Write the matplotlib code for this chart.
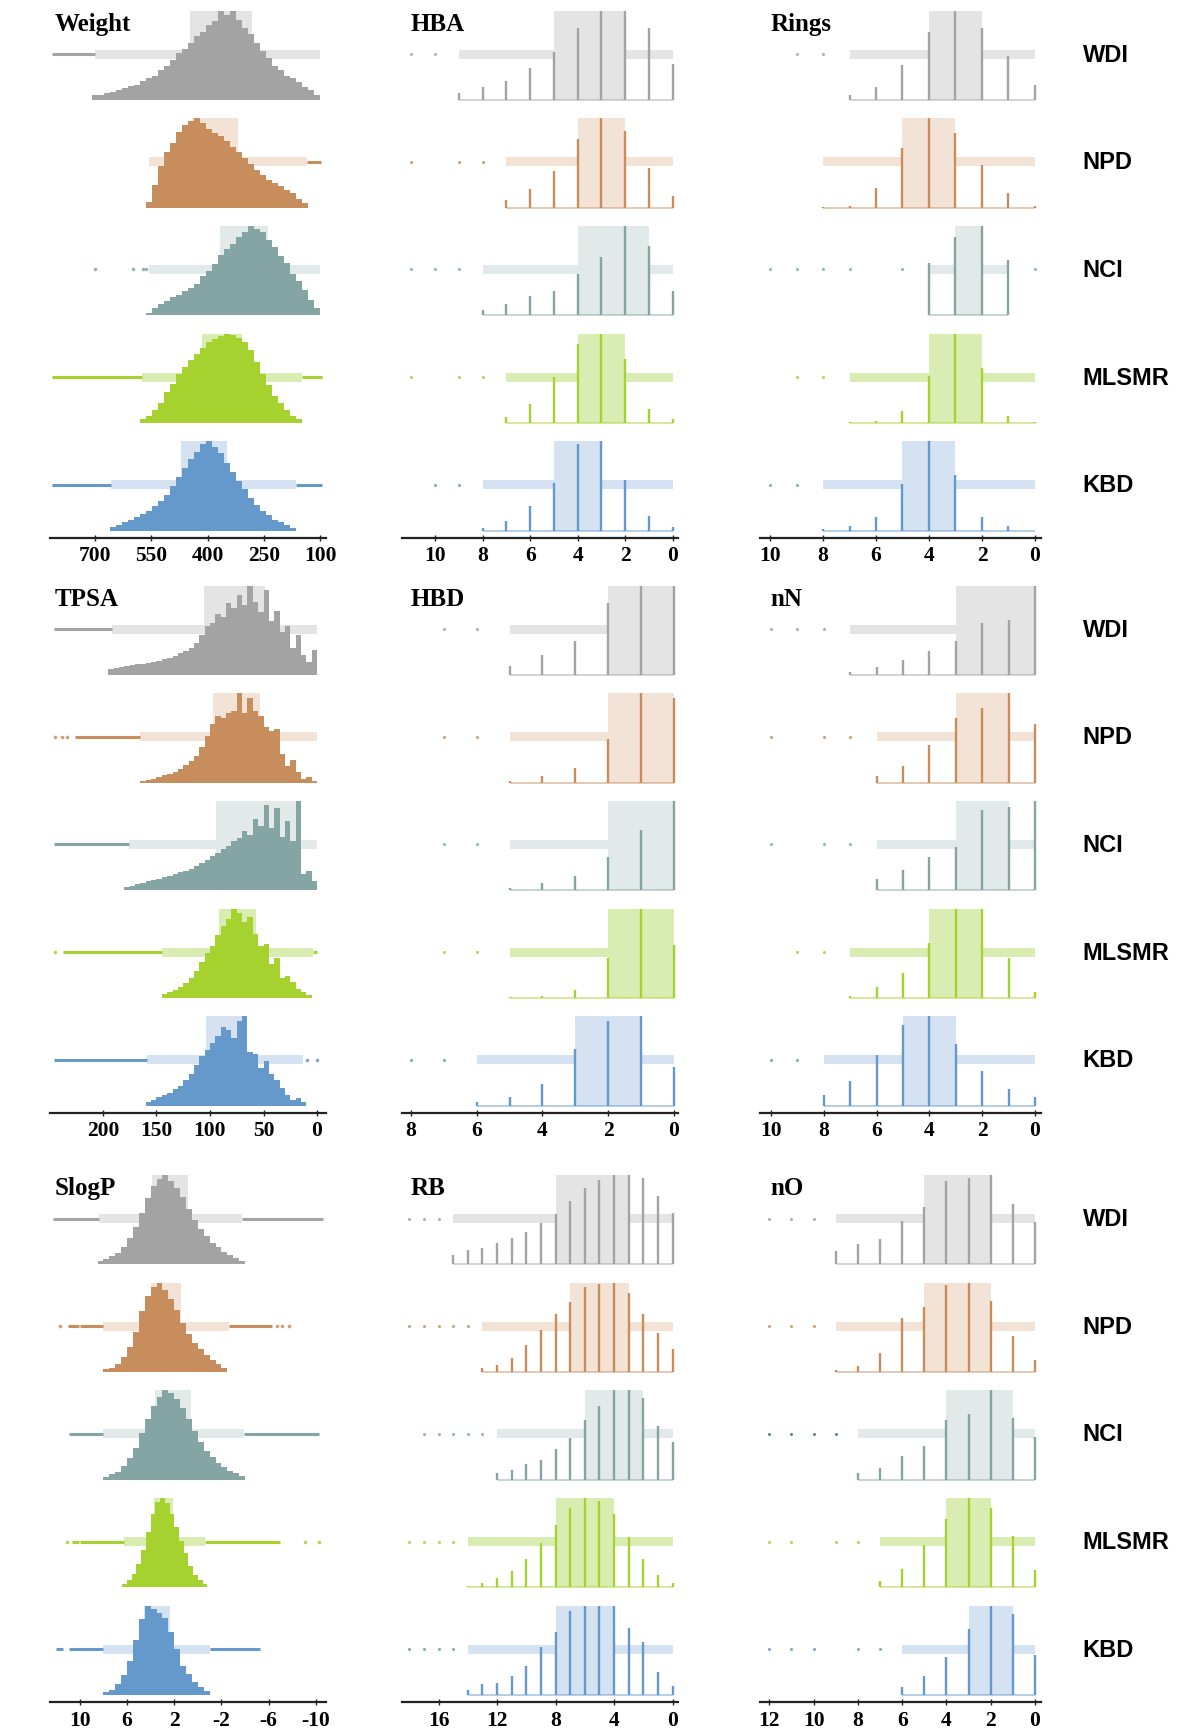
import numpy as np
import matplotlib.pyplot as plt
from matplotlib.transforms import blended_transform_factory

plt.rcParams['axes.unicode_minus'] = False

datasets = ['WDI', 'NPD', 'NCI', 'MLSMR', 'KBD']
dark_colors = ['#a3a3a3', '#c78d5c', '#84a5a4', '#a5d22e', '#6599cb']
light_colors = ['#e4e4e4', '#f3e3d6', '#e1e9e9', '#d9edb3', '#d5e2f2']
dot_colors = ['#a3a3a3', '#c78d5c', '#84a5a4', '#a5d22e', '#6599cb']

# ---- continuous descriptors: histogram heights (relative to tallest bin), low -> high value
weight_start = [100, 132, 100, 148, 164]
weight_width = [16, 16, 16, 16, 16]
weight_hist = [
    [0.06, 0.11, 0.14, 0.20, 0.24, 0.27, 0.33, 0.38, 0.47, 0.55, 0.64, 0.74, 0.80, 0.90, 0.99, 0.95,
     1.0, 0.88, 0.84, 0.76, 0.72, 0.64, 0.57, 0.52, 0.45, 0.38, 0.33, 0.27, 0.24, 0.21, 0.17, 0.16,
     0.13, 0.11, 0.09, 0.08, 0.06, 0.05],
    [0.05, 0.10, 0.16, 0.20, 0.24, 0.27, 0.31, 0.36, 0.42, 0.49, 0.56, 0.62, 0.68, 0.74, 0.80, 0.83,
     0.88, 0.95, 1.0, 0.97, 0.92, 0.85, 0.72, 0.62, 0.47, 0.25, 0.06],
    [0.08, 0.17, 0.28, 0.38, 0.46, 0.58, 0.66, 0.76, 0.84, 0.93, 0.97, 1.0, 0.93, 0.87, 0.80, 0.74,
     0.67, 0.57, 0.50, 0.44, 0.35, 0.31, 0.27, 0.23, 0.20, 0.16, 0.12, 0.08, 0.03],
    [0.04, 0.08, 0.14, 0.22, 0.30, 0.42, 0.55, 0.68, 0.82, 0.90, 0.95, 0.98, 1.0, 0.97, 0.94, 0.90,
     0.84, 0.77, 0.70, 0.62, 0.55, 0.44, 0.35, 0.22, 0.14, 0.08, 0.04],
    [0.03, 0.06, 0.09, 0.12, 0.17, 0.22, 0.29, 0.36, 0.46, 0.55, 0.65, 0.76, 0.87, 0.93, 1.0, 0.97,
     0.88, 0.80, 0.70, 0.60, 0.50, 0.40, 0.33, 0.27, 0.22, 0.19, 0.15, 0.12, 0.09, 0.06, 0.04],
]
weight_box = [(282, 447), (319, 442), (240, 367), (309, 416), (349, 471)]
weight_whisker = [(100, 699), (136, 557), (100, 557), (149, 574), (165, 658)]
weight_runs = [[(699, 815)], [(97, 136)], [], [(574, 815), (96, 149)], [(658, 815), (96, 165)]]
weight_dots = [[], [], [563, 572, 598, 700], [], []]

tpsa_start = [0, 0, 0, 5, 10]
tpsa_width = [5, 5, 5, 5, 5]
tpsa_hist = [
    [0.28, 0.15, 0.22, 0.45, 0.30, 0.55, 0.48, 0.72, 0.60, 0.95, 0.70, 0.82, 1.0, 0.78, 0.90, 0.75,
     0.80, 0.65, 0.68, 0.58, 0.55, 0.45, 0.36, 0.30, 0.27, 0.24, 0.21, 0.19, 0.18, 0.16, 0.15, 0.13,
     0.12, 0.12, 0.11, 0.10, 0.09, 0.08, 0.07],
    [0.02, 0.06, 0.04, 0.12, 0.25, 0.18, 0.32, 0.60, 0.58, 0.62, 0.75, 0.80, 0.95, 0.78, 1.0, 0.80,
     0.78, 0.72, 0.74, 0.65, 0.52, 0.40, 0.30, 0.24, 0.20, 0.15, 0.12, 0.10, 0.08, 0.06, 0.04, 0.03,
     0.02],
    [0.10, 0.22, 0.18, 1.0, 0.55, 0.78, 0.60, 0.92, 0.70, 0.95, 0.72, 0.80, 0.62, 0.66, 0.58, 0.55,
     0.50, 0.46, 0.42, 0.38, 0.34, 0.30, 0.27, 0.24, 0.22, 0.20, 0.18, 0.16, 0.15, 0.13, 0.11, 0.10,
     0.08, 0.07, 0.05, 0.04],
    [0.03, 0.06, 0.10, 0.18, 0.25, 0.22, 0.45, 0.38, 0.60, 0.58, 0.72, 0.90, 0.85, 0.95, 1.0, 0.88,
     0.80, 0.70, 0.58, 0.50, 0.40, 0.30, 0.22, 0.17, 0.12, 0.09, 0.06, 0.04],
    [0.04, 0.08, 0.06, 0.12, 0.20, 0.28, 0.35, 0.50, 0.42, 0.58, 0.60, 1.0, 0.95, 0.75, 0.85, 0.88,
     0.78, 0.70, 0.62, 0.55, 0.45, 0.35, 0.28, 0.22, 0.18, 0.14, 0.12, 0.09, 0.06, 0.04],
]
tpsa_box = [(49, 106), (53, 97), (17, 94), (57, 92), (67, 104)]
tpsa_whisker = [(0, 192), (0, 165), (0, 176), (4, 145), (13, 159)]
tpsa_runs = [[(192, 246)], [(165, 226)], [(176, 246)], [(145, 237), (0, 4)], [(159, 246)]]
tpsa_dots = [[], [234, 238, 245], [], [245], [9, 0]]

slogp_start = [-4.0, -2.5, -4.0, -0.8, -1.0]
slogp_width = [0.5, 0.5, 0.5, 0.4, 0.5]
slogp_hist = [
    [0.04, 0.07, 0.10, 0.14, 0.19, 0.24, 0.32, 0.40, 0.50, 0.62, 0.75, 0.85, 0.93, 1.0, 0.96, 0.88,
     0.74, 0.58, 0.42, 0.30, 0.20, 0.13, 0.09, 0.06, 0.04],
    [0.05, 0.09, 0.14, 0.19, 0.26, 0.33, 0.43, 0.55, 0.70, 0.82, 0.92, 1.0, 0.95, 0.85, 0.68, 0.45,
     0.28, 0.17, 0.09, 0.05, 0.03],
    [0.04, 0.07, 0.10, 0.14, 0.19, 0.25, 0.32, 0.42, 0.55, 0.68, 0.80, 0.90, 0.97, 1.0, 0.93, 0.82,
     0.68, 0.52, 0.36, 0.24, 0.15, 0.09, 0.06, 0.03],
    [0.04, 0.08, 0.14, 0.24, 0.38, 0.52, 0.68, 0.82, 0.94, 1.0, 0.96, 0.82, 0.62, 0.42, 0.26, 0.15,
     0.08, 0.04],
    [0.04, 0.09, 0.15, 0.23, 0.33, 0.52, 0.70, 0.86, 0.92, 0.96, 1.0, 0.85, 0.62, 0.38, 0.22, 0.12,
     0.06, 0.03],
]
slogp_box = [(0.86, 3.9), (1.43, 4.0), (0.6, 3.6), (2.1, 3.7), (2.4, 4.6)]
slogp_whisker = [(-3.7, 8.4), (-2.6, 8.0), (-3.9, 8.0), (-0.6, 6.3), (-1.0, 8.0)]
slogp_runs = [[(8.4, 12.3), (-10.6, -3.7)],
              [(8.0, 10.0), (10.1, 11.0), (-6.3, -2.6)],
              [(8.0, 10.9), (-10.3, -3.9)],
              [(6.3, 10.0), (10.1, 10.7), (-7.0, -0.6)],
              [(8.0, 10.9), (11.4, 12.0), (-5.3, -1.0)]]
slogp_dots = [[], [11.7, -6.7, -7.1, -7.7], [], [11.1, -9.1, -10.3], []]

# ---- integer descriptors: relative counts for values 0, 1, 2, ...
hba_counts = [
    [0.40, 0.80, 1.0, 1.0, 0.81, 0.54, 0.36, 0.21, 0.15, 0.08],
    [0.13, 0.44, 0.86, 1.0, 0.77, 0.41, 0.21, 0.09],
    [0.27, 0.77, 1.0, 0.65, 0.46, 0.27, 0.21, 0.12, 0.06],
    [0.04, 0.16, 0.71, 1.0, 0.88, 0.51, 0.21, 0.06],
    [0.04, 0.16, 0.56, 1.0, 0.97, 0.53, 0.27, 0.11, 0.03],
]
hba_box = [(2, 5), (2, 4), (1, 4), (2, 4), (3, 5)]
hba_whisker = [(0, 9), (0, 7), (0, 8), (0, 7), (0, 8)]
hba_outliers = [[10, 11], [8, 9, 11], [9, 10, 11], [8, 9, 11], [9, 10]]

rings_counts = [
    [0.17, 0.49, 0.81, 1.0, 0.76, 0.39, 0.15, 0.06],
    [0.02, 0.16, 0.48, 0.83, 1.0, 0.67, 0.22, 0.02, 0.005],
    [0, 0.62, 1.0, 0.88, 0.58],
    [0.01, 0.08, 0.61, 1.0, 0.52, 0.13, 0.02, 0.005],
    [0, 0.05, 0.15, 0.62, 1.0, 0.52, 0.15, 0.05, 0.02],
]
rings_box = [(2, 4), (3, 5), (2, 3), (2, 4), (3, 5)]
rings_whisker = [(0, 7), (0, 8), (1, 4), (0, 7), (0, 8)]
rings_outliers = [[8, 9], [], [0, 5, 7, 8, 9, 10], [8, 9], [9, 10]]

hbd_counts = [
    [1.0, 1.0, 0.81, 0.38, 0.22, 0.10],
    [0.95, 1.0, 0.49, 0.16, 0.07, 0.02],
    [1.0, 0.67, 0.37, 0.16, 0.08, 0.02],
    [0.59, 1.0, 0.45, 0.09, 0.02, 0.005],
    [0.43, 1.0, 0.95, 0.63, 0.24, 0.10, 0.04],
]
hbd_box = [(0, 2), (0, 2), (0, 2), (0, 2), (1, 3)]
hbd_whisker = [(0, 5), (0, 5), (0, 5), (0, 5), (0, 6)]
hbd_outliers = [[6, 7], [6, 7], [6, 7], [6, 7], [7, 8]]

nn_counts = [
    [1.0, 0.62, 0.58, 0.38, 0.27, 0.17, 0.09, 0.03],
    [0.66, 1.0, 0.83, 0.72, 0.42, 0.19, 0.07],
    [1.0, 0.93, 0.90, 0.48, 0.37, 0.23, 0.12],
    [0.07, 0.45, 1.0, 1.0, 0.61, 0.28, 0.12, 0.02],
    [0.09, 0.19, 0.39, 0.69, 1.0, 0.90, 0.57, 0.27, 0.12],
]
nn_box = [(0, 3), (1, 3), (1, 3), (2, 4), (3, 5)]
nn_whisker = [(0, 7), (0, 6), (0, 6), (0, 7), (0, 8)]
nn_outliers = [[8, 9, 10], [7, 8, 10], [7, 8, 10], [8, 9], [9, 10]]

rb_counts = [
    [0.57, 0.77, 0.97, 1.0, 1.0, 0.95, 0.86, 0.71, 0.56, 0.46, 0.36, 0.30, 0.24, 0.18, 0.16, 0.11],
    [0.26, 0.44, 0.65, 0.88, 1.0, 0.99, 0.95, 0.78, 0.65, 0.47, 0.30, 0.16, 0.08, 0.05],
    [0.42, 0.60, 0.91, 1.0, 1.0, 0.82, 0.67, 0.47, 0.34, 0.22, 0.18, 0.11, 0.08],
    [0.05, 0.14, 0.32, 0.56, 0.82, 0.97, 1.0, 0.89, 0.70, 0.50, 0.32, 0.18, 0.10, 0.05, 0.02],
    [0.10, 0.26, 0.59, 0.75, 1.0, 1.0, 1.0, 0.94, 0.71, 0.54, 0.33, 0.21, 0.13, 0.12, 0.06],
]
rb_box = [(3, 8), (3, 7), (2, 6), (4, 8), (4, 8)]
rb_whisker = [(0, 15), (0, 13), (0, 12), (0, 14), (0, 14)]
rb_outliers = [[16, 17, 18], [14, 15, 16, 17, 18], [13, 14, 15, 16, 17], [15, 16, 17, 18], [15, 16, 17, 18]]

no_counts = [
    [0.48, 0.68, 1.0, 0.97, 0.93, 0.64, 0.49, 0.29, 0.23, 0.15],
    [0.14, 0.40, 0.79, 1.0, 0.97, 0.73, 0.60, 0.21, 0.07, 0.02],
    [0.48, 0.69, 1.0, 0.74, 0.67, 0.38, 0.26, 0.13, 0.08],
    [0.19, 0.58, 0.89, 1.0, 0.77, 0.47, 0.20, 0.07],
    [0.45, 0.91, 1.0, 0.74, 0.43, 0.21, 0.09],
]
no_box = [(2, 5), (2, 5), (1, 4), (2, 4), (1, 3)]
no_whisker = [(0, 9), (0, 9), (0, 8), (0, 7), (0, 6)]
no_outliers = [[10, 11, 12], [10, 11, 12], [9, 10, 11, 12], [8, 9, 11, 12], [7, 8, 10, 11, 12]]

H = 0.83        # panel height (box top)
BAND_Y = 0.425  # whisker band centre above baseline
BAND_HW = 0.042


def draw_common(ax, k, box, whisker, runs, dots, dot_color, ms):
    y0 = 4 - k
    yc = y0 + BAND_Y
    ax.fill_between(whisker, yc - BAND_HW, yc + BAND_HW, color=light_colors[k], lw=0, zorder=1)
    ax.fill_between(box, y0, y0 + H, color=light_colors[k], lw=0, zorder=1)
    for lo, hi in runs:
        ax.plot([lo, hi], [yc, yc], color=dark_colors[k], lw=2.2, solid_capstyle='butt', zorder=2)
    ax.plot(dots, [yc] * len(dots), 'o', ms=ms, color=dot_color, mec='none', alpha=0.85, zorder=2)


def draw_hist(ax, k, start, width, heights):
    y0 = 4 - k
    edges = start + width * np.arange(len(heights) + 1)
    ax.stairs(y0 + H * np.array(heights), edges, baseline=y0, fill=True,
              color=dark_colors[k], lw=0, zorder=3)


def draw_stems(ax, k, counts, whisker):
    y0 = 4 - k
    c = np.array(counts)
    xs = np.arange(len(c))
    ax.hlines(y0, whisker[0], whisker[1], color=dark_colors[k], lw=1.2, alpha=0.55, zorder=2)
    ax.vlines(xs[c > 0], y0, y0 + H * c[c > 0], color=dark_colors[k], lw=1.7, zorder=3)


def setup_axis(ax, xlim, ticks, title, tx):
    ax.set_xlim(*xlim)
    ax.set_ylim(-0.065, 4.84)
    for s in ['top', 'left', 'right']:
        ax.spines[s].set_visible(False)
    ax.spines['bottom'].set_linewidth(1.6)
    ax.spines['bottom'].set_color('#222222')
    ax.set_yticks([])
    ax.set_xticks(ticks)
    ax.set_xticklabels([str(t) for t in ticks], fontfamily='Liberation Serif',
                       fontweight='bold', fontsize=15.5)
    ax.tick_params(axis='x', direction='inout', length=5, width=1, pad=3, color='#222222')
    ax.text(tx, 0.974, title, transform=ax.transAxes, ha='left', va='center',
            family='Liberation Serif', weight='bold', fontsize=18)
    ax.patch.set_visible(False)


fig = plt.figure(figsize=(12, 17.33), dpi=100)

col_left = [50 / 1200, 402 / 1200, 760 / 1200]
col_width = [276 / 1200, 276 / 1200, 281 / 1200]
group_bottom = [1 - 538.5 / 1733, 1 - 1113.5 / 1733, 1 - 1703 / 1733]
group_height = 528 / 1733
title_x = [0.016, 0.031, 0.037]

hist_vars = [
    ('Weight', weight_start, weight_width, weight_hist, weight_box, weight_whisker, weight_runs,
     weight_dots, (820, 84), [700, 550, 400, 250, 100]),
    ('TPSA', tpsa_start, tpsa_width, tpsa_hist, tpsa_box, tpsa_whisker, tpsa_runs,
     tpsa_dots, (249.5, -8.4), [200, 150, 100, 50, 0]),
    ('SlogP', slogp_start, slogp_width, slogp_hist, slogp_box, slogp_whisker, slogp_runs,
     slogp_dots, (12.53, -10.86), [10, 6, 2, -2, -6, -10]),
]
stem_vars = [
    [('HBA', hba_counts, hba_box, hba_whisker, hba_outliers, (11.39, -0.22), [10, 8, 6, 4, 2, 0]),
     ('Rings', rings_counts, rings_box, rings_whisker, rings_outliers, (10.38, -0.23), [10, 8, 6, 4, 2, 0])],
    [('HBD', hbd_counts, hbd_box, hbd_whisker, hbd_outliers, (8.27, -0.12), [8, 6, 4, 2, 0]),
     ('nN', nn_counts, nn_box, nn_whisker, nn_outliers, (10.42, -0.23), [10, 8, 6, 4, 2, 0])],
    [('RB', rb_counts, rb_box, rb_whisker, rb_outliers, (18.5, -0.37), [16, 12, 8, 4, 0]),
     ('nO', no_counts, no_box, no_whisker, no_outliers, (12.42, -0.27), [12, 10, 8, 6, 4, 2, 0])],
]

for g in range(3):
    # first column: continuous histograms
    name, start, width, hist, box, whisk, runs, dots, xlim, ticks = hist_vars[g]
    ax = fig.add_axes([col_left[0], group_bottom[g], col_width[0], group_height])
    for k in range(5):
        draw_common(ax, k, box[k], whisk[k], runs[k], dots[k], dark_colors[k], 2.6)
        draw_hist(ax, k, start[k], width[k], hist[k])
    setup_axis(ax, xlim, ticks, name, title_x[0])

    # second and third columns: integer counts
    for c in range(2):
        name, counts, box, whisk, outl, xlim, ticks = stem_vars[g][c]
        ax = fig.add_axes([col_left[c + 1], group_bottom[g], col_width[c + 1], group_height])
        for k in range(5):
            dc = dot_colors[k]
            if name == 'nO' and k == 2:
                dc = '#3f7a55'
            draw_common(ax, k, box[k], whisk[k], [], outl[k], dc, 2.2)
            draw_stems(ax, k, counts[k], whisk[k])
        setup_axis(ax, xlim, ticks, name, title_x[c + 1])
        if c == 1:
            trans = blended_transform_factory(ax.transAxes, ax.transData)
            for k in range(5):
                ax.text(1.149, 4 - k + BAND_Y, datasets[k], transform=trans, va='center',
                        ha='left', family='Liberation Sans', weight='bold', fontsize=17)

fig.savefig('out.png', dpi=100)
